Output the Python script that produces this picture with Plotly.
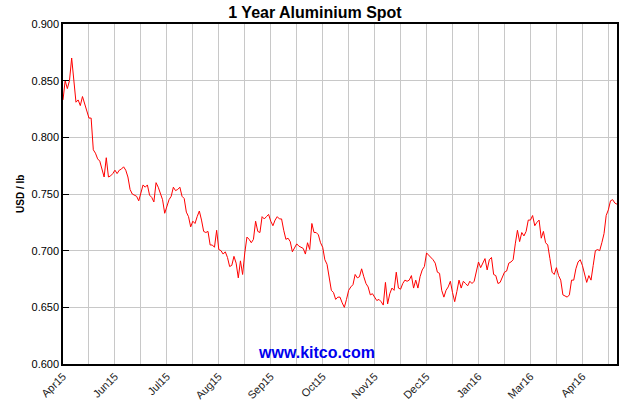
import plotly.graph_objects as go

# Daily aluminium spot (USD/lb), one value per trading day
prices_seg1 = [0.833, 0.850, 0.843, 0.850, 0.870, 0.851, 0.831, 0.833, 0.828, 0.836,
               0.830, 0.824, 0.817, 0.817, 0.789, 0.786, 0.781, 0.779, 0.773, 0.765,
               0.782, 0.765, 0.766, 0.768, 0.771, 0.768, 0.771, 0.772, 0.774, 0.771,
               0.765, 0.754, 0.750, 0.749, 0.748, 0.744, 0.752, 0.758, 0.756, 0.758,
               0.749, 0.747, 0.743, 0.760, 0.756]
prices_seg2 = [0.751, 0.745, 0.733, 0.740, 0.745, 0.748, 0.756, 0.753, 0.754, 0.756,
               0.748, 0.746, 0.734, 0.730, 0.721, 0.726, 0.724, 0.730, 0.735, 0.727,
               0.717, 0.716, 0.717, 0.705, 0.705, 0.703, 0.718, 0.701, 0.700, 0.697,
               0.699, 0.694, 0.686, 0.687, 0.695, 0.689, 0.676, 0.691, 0.679, 0.698,
               0.712, 0.710]
prices_seg3 = [0.707, 0.710, 0.726, 0.717, 0.716, 0.730, 0.728, 0.730, 0.732, 0.726,
               0.722, 0.727, 0.730, 0.728, 0.728, 0.718, 0.710, 0.711, 0.708, 0.699,
               0.702, 0.706, 0.704, 0.703, 0.702, 0.697, 0.707, 0.701, 0.724, 0.716,
               0.716, 0.714, 0.707, 0.703, 0.692, 0.688, 0.677, 0.665, 0.663, 0.657,
               0.659, 0.659]
prices_seg4 = [0.654, 0.650, 0.657, 0.665, 0.668, 0.670, 0.679, 0.676, 0.677, 0.684,
               0.677, 0.671, 0.668, 0.661, 0.662, 0.659, 0.656, 0.657, 0.655, 0.652,
               0.672, 0.653, 0.662, 0.667, 0.665, 0.681, 0.667, 0.666, 0.671, 0.674,
               0.673, 0.674, 0.678, 0.667, 0.674, 0.667, 0.677, 0.683, 0.686, 0.698,
               0.696]
prices_seg5 = [0.694, 0.692, 0.689, 0.681, 0.680, 0.665, 0.659, 0.665, 0.668, 0.673,
               0.663, 0.655, 0.664, 0.674, 0.667, 0.673, 0.671, 0.669, 0.673, 0.671,
               0.673, 0.681, 0.690, 0.685, 0.689, 0.693, 0.683, 0.692, 0.694, 0.679,
               0.678, 0.671, 0.672, 0.676, 0.681, 0.682, 0.689, 0.690, 0.692, 0.706,
               0.718, 0.708]
prices_seg6 = [0.716, 0.713, 0.717, 0.727, 0.727, 0.731, 0.722, 0.725, 0.727, 0.711,
               0.717, 0.707, 0.705, 0.693, 0.681, 0.679, 0.685, 0.678, 0.674, 0.661,
               0.660, 0.659, 0.661, 0.674, 0.674, 0.684, 0.690, 0.692, 0.687, 0.678,
               0.672, 0.678, 0.674, 0.687, 0.700, 0.701, 0.700, 0.707, 0.715, 0.731,
               0.736, 0.744, 0.745, 0.742, 0.741]

prices = prices_seg1 + prices_seg2 + prices_seg3 + prices_seg4 + prices_seg5 + prices_seg6
day_index = list(range(len(prices)))

tick_labels = ["Apr15", "Jun15", "Jul15", "Aug15", "Sep15", "Oct15",
               "Nov15", "Dec15", "Jan16", "Mar16", "Apr16"]
label_step = 24
grid_step = 12

tickvals = list(range(0, len(prices), grid_step))
ticktext = [tick_labels[v // label_step] if (v % label_step == 0 and v // label_step < len(tick_labels)) else ""
            for v in tickvals]

FONT = "Arial, Liberation Sans, sans-serif"

fig = go.Figure()
fig.add_trace(go.Scatter(x=day_index, y=prices, mode="lines",
                         line=dict(color="#ff0000", width=1), hoverinfo="y"))

fig.update_layout(
    width=630, height=400,
    margin=dict(l=63, r=13, t=24, b=36),
    paper_bgcolor="white", plot_bgcolor="white",
    showlegend=False,
    font=dict(family=FONT, color="#000000", size=11),
    title=dict(text="<b>1 Year Aluminium Spot</b>", x=0.5, xref="container", xanchor="center",
               y=1 - 12 / 400, yref="container", yanchor="middle",
               font=dict(family=FONT, size=16, color="#000000")),
)

fig.update_xaxes(
    range=[0, len(prices) - 1], automargin=False,
    tickmode="array", tickvals=tickvals, ticktext=ticktext,
    tickangle=-45, ticks="",
    tickfont=dict(family=FONT, size=11, color="#222222"),
    showgrid=True, gridcolor="#c8c8c8", gridwidth=1,
    showline=True, linecolor="#000000", linewidth=1.5, mirror=True,
    zeroline=False,
)
fig.update_yaxes(
    range=[0.6, 0.9], dtick=0.05, tick0=0.6, tickformat=".3f", automargin=False,
    ticks="inside", ticklen=6, tickcolor="#000000", tickwidth=1,
    tickfont=dict(family=FONT, size=11, color="#000000"),
    showgrid=True, gridcolor="#c8c8c8", gridwidth=1,
    showline=True, linecolor="#000000", linewidth=1.5, mirror=True,
    zeroline=False,
)

fig.add_annotation(text="<b>USD / lb</b>", textangle=-90, xref="paper", yref="paper",
                   x=(20 - 63) / 554, y=0.5, xanchor="center", yanchor="middle",
                   showarrow=False, font=dict(family=FONT, size=10, color="#000000"))
fig.add_annotation(text="<b>www.kitco.com</b>", xref="paper", yref="paper",
                   x=(316 - 63) / 554, y=(364 - 352) / 340, xanchor="center", yanchor="middle",
                   showarrow=False, font=dict(family=FONT, size=16, color="#0000ee"))

fig.write_html("out.html")
